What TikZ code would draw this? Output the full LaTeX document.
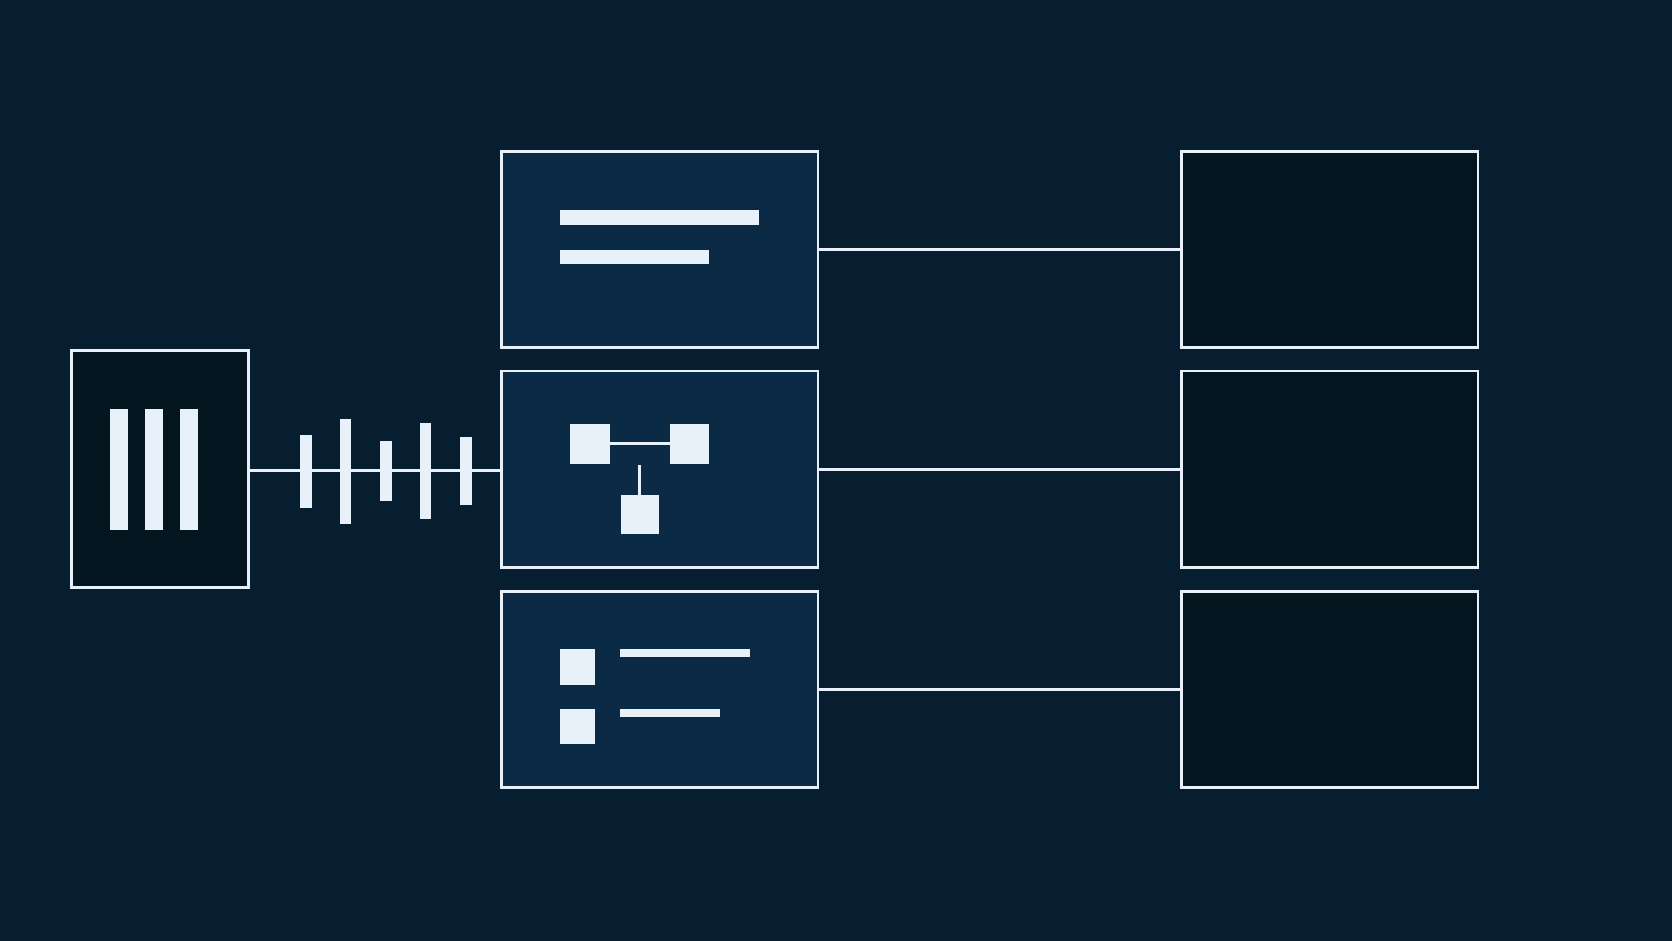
\documentclass[tikz,border=0pt]{standalone}
\begin{document}
\definecolor{bg}{HTML}{071D30}
\definecolor{mid}{HTML}{0B2A45}
\definecolor{dk}{HTML}{03151F}
\definecolor{wh}{HTML}{E8F0FA}
\begin{tikzpicture}[x=1pt,y=-1pt,
 box/.style={draw=wh,line width=2.5pt,inner sep=0,outer sep=0,minimum width=#1},
 mbox/.style={box=297pt,fill=mid,minimum height=184pt},
 rbox/.style={box=278pt,fill=dk,minimum height=184pt},
 ln/.style={draw=wh,line width=2.5pt},
 blk/.style={fill=wh}]
\fill[bg] (0,0) rectangle (1568,882);
\useasboundingbox (0,0) rectangle (1568,882);
\node[box=166pt,fill=dk,minimum height=222pt] (L) at (150,440) {};
\foreach \x in {103,136,169} \fill[blk] (\x,384) rectangle (\x+17,497);
\node[mbox] (M1) at (618.5,234) {};
\node[mbox] (M2) at (618.5,440) {};
\node[mbox] (M3) at (618.5,646.5) {};
\node[rbox] (R1) at (1247,234) {};
\node[rbox] (R2) at (1247,440) {};
\node[rbox] (R3) at (1247,646.5) {};
\draw[ln] (L.east |- 0,441) -- (M2.west |- 0,441);
\draw[ln] (M1) -- (R1);
\draw[ln] (M2) -- (R2);
\draw[ln] (M3) -- (R3);
\foreach \x/\a/\b in {287/408/476,324/393/491,362/414/470,399/397/487,437/410/474}
  \fill[blk] (\x-5.5,\a) rectangle (\x+5.5,\b);
\fill[blk] (525,197) rectangle (712,211);
\fill[blk] (525,234) rectangle (665,248);
\fill[blk] (535,398) rectangle (572,435);
\fill[blk] (628,398) rectangle (665,435);
\fill[blk] (582,464) rectangle (618,501);
\draw[ln] (572,416) -- (628,416);
\draw[ln] (600,436) -- (600,464);
\fill[blk] (525,609) rectangle (558,642);
\fill[blk] (525,665) rectangle (558,698);
\fill[blk] (581,609) rectangle (703,616);
\fill[blk] (581,665) rectangle (675,672);
\end{tikzpicture}
\end{document}
